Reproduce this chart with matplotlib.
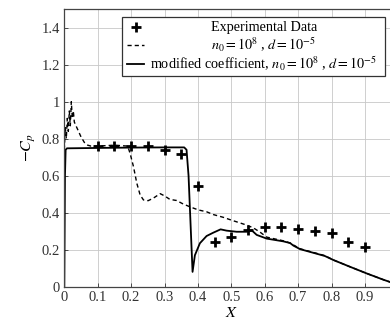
import matplotlib
matplotlib.use("Agg")
import matplotlib.pyplot as plt
from matplotlib.lines import Line2D
from matplotlib.patches import Rectangle

plt.rcParams['font.family'] = ['Liberation Serif', 'DejaVu Serif']
plt.rcParams['mathtext.fontset'] = 'stix'

# Experimental data
exp_x = [0.1, 0.15, 0.2, 0.25, 0.3, 0.35, 0.4, 0.45, 0.5, 0.55, 0.6, 0.65, 0.7, 0.75, 0.8, 0.85, 0.9]
exp_y = [0.76, 0.76, 0.76, 0.76, 0.74, 0.715, 0.545, 0.24, 0.27, 0.305, 0.322, 0.322, 0.314, 0.30, 0.29, 0.243, 0.213]

# n0 = 1e8, d = 1e-5 (dashed)
dash_x = [0.0, 0.003, 0.006, 0.009, 0.012, 0.015, 0.018, 0.021, 0.024, 0.027, 0.03, 0.04, 0.05, 0.06, 0.07, 0.08,
          0.1, 0.15, 0.19, 0.197, 0.207, 0.217, 0.227, 0.237, 0.251, 0.266, 0.287, 0.301, 0.316, 0.336, 0.356,
          0.376, 0.401, 0.426, 0.446, 0.476, 0.5, 0.546, 0.566, 0.586, 0.606, 0.656, 0.676, 0.706, 0.756, 0.78,
          0.806, 0.855, 0.905, 0.955, 1.0]
dash_y = [0.74, 0.86, 0.8, 0.91, 0.84, 0.95, 0.87, 1.0, 0.91, 0.95, 0.89, 0.85, 0.81, 0.78, 0.765, 0.76,
          0.76, 0.765, 0.76, 0.72, 0.65, 0.56, 0.496, 0.469, 0.465, 0.478, 0.503, 0.49, 0.472, 0.466, 0.447,
          0.432, 0.415, 0.405, 0.39, 0.375, 0.36, 0.333, 0.318, 0.295, 0.268, 0.248, 0.236, 0.205, 0.18, 0.168,
          0.144, 0.108, 0.072, 0.038, 0.01]

# modified coefficient (solid)
sol_x = [0.0, 0.002, 0.004, 0.008, 0.1, 0.2, 0.3, 0.359, 0.366, 0.372, 0.384, 0.391, 0.406, 0.426, 0.446,
         0.468, 0.486, 0.516, 0.546, 0.561, 0.576, 0.606, 0.656, 0.676, 0.686, 0.706, 0.756, 0.78,
         0.806, 0.855, 0.905, 0.955, 1.0]
sol_y = [0.0, 0.6, 0.74, 0.748, 0.75, 0.752, 0.753, 0.753, 0.74, 0.6, 0.08, 0.17, 0.235, 0.274, 0.292,
         0.31, 0.303, 0.297, 0.297, 0.305, 0.28, 0.26, 0.245, 0.236, 0.222, 0.203, 0.178, 0.166,
         0.144, 0.108, 0.072, 0.038, 0.01]

x_ticks = [0, 0.1, 0.2, 0.3, 0.4, 0.5, 0.6, 0.7, 0.8, 0.9, 1.0]
x_tick_labels = ['0', '0.1', '0.2', '0.3', '0.4', '0.5', '0.6', '0.7', '0.8', '0.9', '']
y_ticks = [0, 0.2, 0.4, 0.6, 0.8, 1.0, 1.2, 1.4]
y_tick_labels = ['0', '0.2', '0.4', '0.6', '0.8', '1', '1.2', '1.4']

legend_labels = ['Experimental Data',
                 r'$n_0 = 10^8$ , $d = 10^{-5}$',
                 r'modified coefficient, $n_0 = 10^8$ , $d = 10^{-5}$']

fig = plt.figure(figsize=(3.9, 3.22), dpi=100)
ax = fig.add_axes([64.3/390, (322-286.7)/322, 334/390, 277.5/322])

ax.plot(dash_x, dash_y, color='black', lw=1.0, ls=(0, (3, 2.2)))
ax.plot(sol_x, sol_y, color='black', lw=1.3)
ax.plot(exp_x, exp_y, ls='none', marker='+', ms=7, mew=2.0, color='black')

ax.set_xlim(0, 1.0)
ax.set_ylim(0, 1.5)
ax.set_xticks(x_ticks)
ax.set_xticklabels(x_tick_labels)
ax.set_yticks(y_ticks)
ax.set_yticklabels(y_tick_labels)
ax.grid(True, color='#c8c8c8', lw=0.6)
ax.set_axisbelow(True)
ax.tick_params(direction='in', length=3, width=0.6, labelsize=10.5, colors='#333333', pad=3)
for s in ax.spines.values():
    s.set_color('#444444')
    s.set_linewidth(0.9)

ax.set_xlabel(r'$X$', fontsize=11.5, labelpad=1)
ax.set_ylabel(r'$-C_p$', fontsize=11.5, labelpad=3)

# legend box
tr = ax.transAxes
ax.add_patch(Rectangle((0.173, 0.759), 0.787, 0.212, transform=tr, facecolor='white',
                       edgecolor='#333333', lw=0.9, zorder=5))
rows_y = [(286.7-27.3)/277.5, (286.7-44.5)/277.5, (286.7-64.3)/277.5]
hx0, hx1 = (126.7-64.3)/334, (144.3-64.3)/334
ax.add_line(Line2D([(136-64.3)/334], [rows_y[0]], transform=tr, marker='+', ms=7, mew=2.0,
                   color='black', ls='none', zorder=6))
ax.add_line(Line2D([hx0, hx1], [rows_y[1]]*2, transform=tr, color='black', lw=1.0,
                   ls=(0, (3, 2.2)), zorder=6))
ax.add_line(Line2D([hx0, hx1], [rows_y[2]]*2, transform=tr, color='black', lw=1.3, zorder=6))
tx = (264-64.3)/334
for lab, yy in zip(legend_labels, rows_y):
    ax.text(tx, yy, lab, transform=tr, ha='center', va='center', fontsize=10.2, zorder=6)

fig.savefig('out.png', dpi=100)
